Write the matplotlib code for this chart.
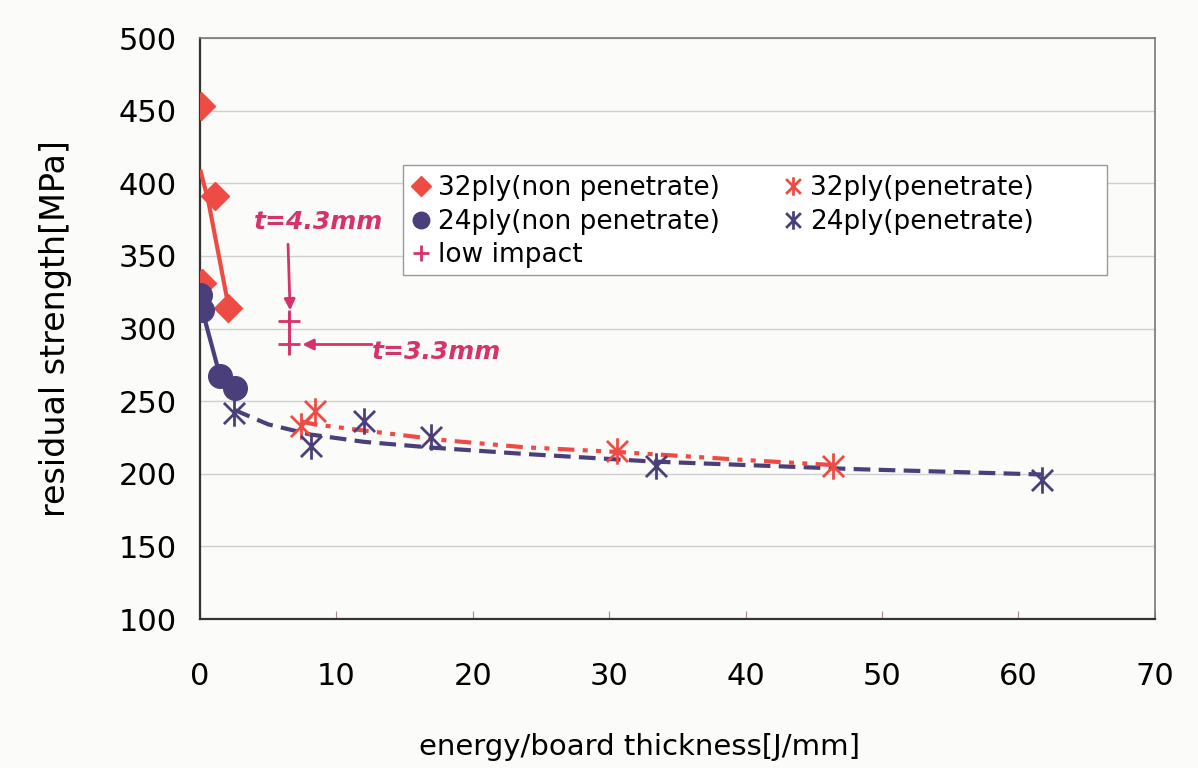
import numpy as np
import matplotlib.pyplot as plt
from matplotlib.path import Path
from matplotlib.patches import Rectangle

# residual strength vs impact energy per board thickness
x32_np = [0.07, 1.1, 0.15, 2.05]
y32_np = [453, 391, 331, 314]
fit32_np_x = [0.05, 0.6, 2.05]
fit32_np_y = [408, 388, 317]

x24_np = [0.0, 0.15, 1.47, 2.56]
y24_np = [323, 313, 267, 259]

x32_p = [7.4, 8.4, 30.6, 46.4]
y32_p = [233, 243, 216, 205]
fit32_p_x = [7.4, 8.4, 13.2, 18, 23.7, 30.6, 39.7, 46.4]
fit32_p_y = [236, 234, 228.4, 223, 218.3, 215, 209.6, 206]

x24_p = [2.5, 8.1, 12.0, 16.9, 33.4, 61.7]
y24_p = [242, 219, 236, 225, 205, 196]
fit24_p_x = [2.5, 5, 8.1, 12, 17, 23.7, 33.2, 48, 61.7]
fit24_p_y = [244, 234, 227, 222, 218, 213.7, 208.4, 203.2, 199.5]

x_low = [6.55, 6.55]
y_low = [305, 289]

red = '#ee4b44'
navy = '#4a3f7a'
mag = '#d6336c'

# excel-style asterisk: x with a vertical bar
star = Path([(-1, -1), (1, 1), (-1, 1), (1, -1), (0, -1.25), (0, 1.25)],
            [Path.MOVETO, Path.LINETO, Path.MOVETO, Path.LINETO, Path.MOVETO, Path.LINETO])

plt.rcParams['font.family'] = 'DejaVu Sans'
fig = plt.figure(figsize=(11.98, 7.68), dpi=100, facecolor='#fbfbf9')
ax = fig.add_axes([0.167, 0.194, 0.797, 0.7565])
ax.set_facecolor('#fbfbf9')

ax.plot(fit32_np_x, fit32_np_y, color=red, lw=3, zorder=3)
ax.plot(x24_np, y24_np, color=navy, lw=3, zorder=3)
ax.plot(fit24_p_x, fit24_p_y, color=navy, lw=3, dashes=(4, 2), zorder=3)
ax.plot(fit32_p_x, fit32_p_y, color=red, lw=3, dashes=(4, 2, 1.2, 2, 1.2, 2), zorder=3)

h1, = ax.plot(x32_np, y32_np, 'D', color=red, ms=14, ls='none', zorder=4, label='32ply(non penetrate)')
h2, = ax.plot(x24_np, y24_np, 'o', color=navy, ms=17, ls='none', zorder=4, label='24ply(non penetrate)')
h3, = ax.plot(x_low, y_low, '+', color=mag, ms=16, mew=2, ls='none', zorder=4, label='low impact')
ax.plot([x_low[0], x_low[0]], [y_low[1] - 6, y_low[0] + 6], color=mag, lw=2, zorder=4)
h4, = ax.plot(x32_p, y32_p, marker=star, color=red, ms=19, mew=2, ls='none', zorder=5, label='32ply(penetrate)')
h5, = ax.plot(x24_p, y24_p, marker=star, color=navy, ms=19, mew=2, ls='none', zorder=5, label='24ply(penetrate)')

# annotations
arrow = dict(arrowstyle='-|>', color=mag, lw=2, mutation_scale=16, shrinkA=0, shrinkB=0)
ax.annotate('', xy=(6.6, 312.5), xytext=(6.45, 358), arrowprops=arrow, zorder=6)
ax.text(8.65, 373, 't=4.3mm', color=mag, fontsize=18, fontweight='bold', style='italic',
        ha='center', va='center')
ax.annotate('', xy=(7.5, 289), xytext=(12.6, 289), arrowprops=arrow, zorder=6)
ax.text(12.6, 284, 't=3.3mm', color=mag, fontsize=18, fontweight='bold', style='italic',
        ha='left', va='center')

ax.set_xlim(0, 70)
ax.set_ylim(100, 500)
ax.set_xticks(np.arange(0, 71, 10))
ax.set_yticks(np.arange(100, 501, 50))
ax.yaxis.grid(True, color='#cfcfcf', lw=1)
ax.set_axisbelow(True)
ax.tick_params(axis='x', direction='in', length=6, width=0.8, color='#aa8899', pad=31, labelsize=22)
ax.tick_params(axis='y', length=0, pad=17, labelsize=22)
for s in ['left', 'bottom']:
    ax.spines[s].set_color('#333333')
    ax.spines[s].set_linewidth(1.6)
for s in ['top', 'right']:
    ax.spines[s].set_color('#777777')
    ax.spines[s].set_linewidth(1.2)

ax.set_xlabel('energy/board thickness[J/mm]', fontsize=21)
ax.xaxis.set_label_coords(0.46, -0.196)
ax.set_ylabel('residual strength[MPa]', fontsize=24)
ax.yaxis.set_label_coords(-0.134, 0.5)

# legend box
ax.add_patch(Rectangle((0.2126, 0.592), 0.737, 0.189, transform=ax.transAxes,
                       facecolor='white', edgecolor='#9a9a9a', lw=1, zorder=7))
leg = ax.legend(handles=[h1, h2, h3, h4, h5], ncol=2, loc='upper left',
                bbox_to_anchor=(0.222, 0.764), frameon=False, fontsize=19,
                markerscale=0.7, handlelength=0.7, handletextpad=0.3,
                columnspacing=2.4, labelspacing=0.29, borderpad=0, borderaxespad=0)
leg.set_zorder(8)

fig.savefig('out.png', dpi=100, facecolor=fig.get_facecolor())
